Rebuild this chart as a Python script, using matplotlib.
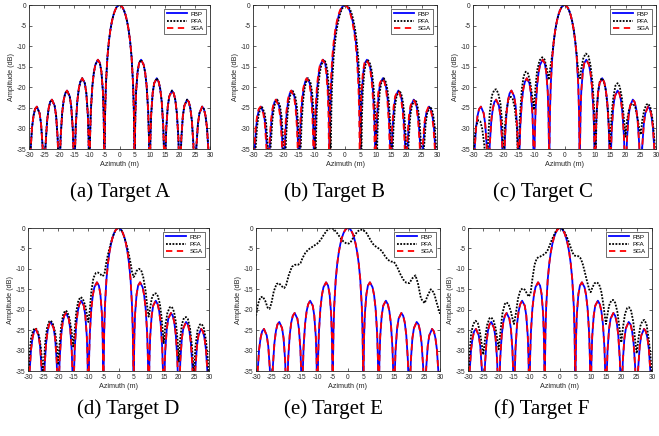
import numpy as np
import matplotlib.pyplot as plt

plt.rcParams['font.family'] = ['Liberation Sans', 'DejaVu Sans']
plt.rcParams['axes.unicode_minus'] = False

# ideal response (FBP / SGA), right half, mirrored for the left half
ideal_x_half = [0, 0.5, 1, 1.5, 2, 2.5, 3, 3.5, 4, 4.5, 4.75, 4.9, 5,
                5.1, 5.25, 5.5, 6, 6.5, 7.15, 8, 8.5, 9, 9.5, 9.75, 9.9, 10,
                10.1, 10.25, 10.5, 11, 11.5, 12.35, 13, 13.5, 14, 14.5, 14.75, 14.9, 15,
                15.1, 15.25, 15.5, 16, 16.5, 17.4, 18, 18.5, 19, 19.5, 19.75, 19.9, 20,
                20.1, 20.25, 20.5, 21, 21.5, 22.4, 23, 23.5, 24, 24.5, 24.75, 24.9, 25,
                25.1, 25.25, 25.5, 26, 26.5, 27.4, 28, 28.5, 29, 29.5, 29.75, 29.9, 30]
ideal_y_half = [0, -0.14, -0.58, -1.33, -2.42, -3.92, -5.94, -8.69, -12.6, -19.2, -25.6, -33.8, -60,
                -34.2, -26.5, -21.0, -16.2, -14.1, -13.3, -14.5, -16.4, -19.7, -25.7, -31.9, -39.9, -60,
                -40.1, -32.3, -26.6, -21.4, -19.0, -17.8, -18.7, -20.4, -23.5, -29.4, -35.5, -43.5, -60,
                -43.6, -35.7, -30.0, -24.7, -22.2, -20.8, -21.5, -23.1, -26.2, -32.0, -38.0, -46, -60,
                -46, -38.2, -32.4, -27.0, -24.5, -23.0, -23.6, -25.2, -28.2, -33.9, -39.9, -48, -60,
                -48, -40.1, -34.3, -28.9, -26.3, -24.7, -25.3, -26.9, -29.8, -35.6, -41.5, -49, -60]

ideal_x = np.concatenate([-np.array(ideal_x_half[::-1]), ideal_x_half[1:]])
ideal_y = np.concatenate([ideal_y_half[::-1], ideal_y_half[1:]])

# target B: small azimuth offsets
b_pfa_shift = 0.3
b_sga_shift = -0.15

# PFA responses for targets C-F
pfa_c = [(-30, -40), (-29.6, -33), (-29, -29.5), (-28.3, -28), (-27.6, -28.3), (-27, -30), (-26.3, -34),
         (-25.5, -42), (-25, -32), (-24.5, -26), (-23.8, -22), (-23, -20.6), (-22.4, -20.5), (-21.7, -21.5),
         (-21, -24), (-20.4, -29), (-20, -42), (-19.6, -30), (-19, -25.5), (-18.3, -22.8), (-17.6, -22.3),
         (-17, -22.8), (-16.3, -25), (-15.6, -30), (-15.1, -42), (-14.7, -28), (-14, -20.5), (-13.4, -17.3),
         (-12.7, -16.2), (-12, -16.6), (-11.3, -18.5), (-10.6, -22), (-10, -25.5), (-9.5, -20), (-9, -16),
         (-8.2, -13.5), (-7.3, -12.7), (-6.5, -13.3), (-5.8, -15.5), (-5.2, -18.2), (-4.6, -15), (-4.2, -13),
         (-4, -12), (-3.5, -8.7), (-3, -6), (-2.5, -3.9), (-2, -2.4), (-1.5, -1.3), (-1, -0.6), (-0.5, -0.15),
         (0, 0), (0.5, -0.15), (1, -0.6), (1.5, -1.3), (2, -2.4), (2.5, -3.9), (3, -5.9), (3.5, -8.6),
         (4, -12), (4.3, -14.5), (4.7, -17.3), (5.1, -17.8), (5.5, -15.5), (6.2, -12.8), (7, -11.8),
         (7.8, -12.3), (8.5, -14.5), (9.2, -19), (9.7, -25), (10.1, -42), (10.5, -27), (11, -21),
         (11.6, -18.5), (12.2, -17.8), (12.9, -18.5), (13.6, -21), (14.3, -26), (14.9, -35), (15.4, -27),
         (16, -22.5), (16.7, -19.6), (17.4, -19), (18.1, -19.8), (18.8, -22.5), (19.4, -27), (20, -32),
         (20.5, -28), (21.2, -25.3), (21.9, -24.2), (22.5, -24), (23.2, -24.8), (23.9, -27.3), (24.5, -30),
         (25, -31.5), (25.5, -28), (26.2, -25.3), (26.9, -24.2), (27.5, -24), (28.2, -25), (28.9, -28),
         (29.5, -33), (30, -40)]

pfa_d = [(-30, -40), (-29.5, -31), (-29, -27), (-28.3, -25), (-27.6, -24.5), (-27, -24.9), (-26.3, -26.5),
         (-25.7, -29.5), (-25.2, -34), (-25, -36), (-24.8, -34), (-24.3, -28), (-23.7, -24.5), (-23, -22.9),
         (-22.4, -22.7), (-21.8, -23.4), (-21, -25.5), (-20.4, -29), (-20, -33.5), (-19.6, -29), (-19, -24),
         (-18.3, -21), (-17.6, -20.2), (-17, -20.5), (-16.3, -22), (-15.6, -25), (-15, -29), (-14.5, -25),
         (-14, -20.5), (-13.3, -17.7), (-12.5, -16.9), (-11.8, -17.4), (-11, -19), (-10.4, -21.5), (-10, -23),
         (-9.5, -20), (-9, -15.5), (-8.3, -12.2), (-7.5, -11), (-6.8, -10.9), (-6, -11.3), (-5.4, -11.8),
         (-5, -11.6), (-4.6, -11), (-4, -8.2), (-3.5, -6.5), (-3, -5), (-2.5, -3.6), (-2, -2.4), (-1.5, -1.35),
         (-1, -0.6), (-0.5, -0.15), (0, 0), (0.5, -0.15), (1, -0.6), (1.5, -1.35), (2, -2.4), (2.5, -3.6),
         (3, -5.1), (3.5, -6.7), (4, -8.6), (4.5, -10.8), (5, -12), (5.4, -11.6), (6, -10.5), (6.8, -10),
         (7.5, -10.3), (8.2, -12), (9, -15.5), (9.5, -19), (10, -21.7), (10.4, -20), (11, -17.3),
         (11.7, -16.1), (12.4, -16), (13, -16.6), (13.7, -18.5), (14.3, -22), (15, -28.2), (15.5, -24),
         (16.2, -20.8), (17, -19.4), (17.7, -19.3), (18.4, -20.5), (19, -23), (19.6, -27.5), (20, -32.7),
         (20.4, -27.5), (21, -23.6), (21.7, -22), (22.4, -21.8), (23, -22.3), (23.7, -24.5), (24.3, -28.5),
         (25, -36), (25.5, -29), (26.2, -25), (27, -23.6), (27.6, -23.5), (28.3, -24.5), (29, -27.5),
         (29.6, -32), (30, -38)]

pfa_e = [(-30, -21.5), (-29.3, -18.5), (-28.6, -17), (-27.8, -16.8), (-27, -17.8), (-26.2, -19.5),
         (-25.6, -19.8), (-25, -18.5), (-24.2, -15.5), (-23.3, -13.7), (-22.5, -13.5), (-21.7, -14.2),
         (-20.8, -14.7), (-20.2, -14), (-19.3, -11.5), (-18.3, -9.5), (-17.3, -9), (-16.3, -9), (-15.5, -8.6),
         (-14.8, -7.3), (-14, -6.2), (-13, -5.3), (-12, -4.8), (-11, -4.3), (-10, -3.8), (-9, -3.0),
         (-8, -1.8), (-7, -0.7), (-6, -0.1), (-5.3, 0), (-4.5, -0.4), (-3.5, -1.3), (-2.5, -2.4),
         (-1.5, -3.3), (-0.5, -3.8), (0.3, -3.8), (1, -3.3), (2, -2.0), (3, -0.9), (4, -0.4), (5, -0.5),
         (6, -1.2), (7, -2.5), (8, -3.8), (9, -4.5), (10, -5), (11, -5.6), (12, -6.8), (13, -7.8),
         (14, -8.2), (15, -8.3), (16, -9.5), (17, -11.2), (18, -12.6), (19, -13.4), (20, -13.5),
         (21, -12.3), (22, -11.6), (22.8, -13.5), (23.8, -17.3), (25, -18.4), (26, -16.5), (27, -15),
         (28, -15.8), (29, -18.5), (30, -21)]

pfa_f = [(-30, -40), (-29.5, -31), (-29, -26), (-28.3, -23.5), (-27.5, -22.7), (-26.8, -23.3),
         (-26.1, -25.5), (-25.5, -28.5), (-25, -31), (-24.5, -27.5), (-23.8, -23.8), (-23, -22.1),
         (-22.4, -21.9), (-21.7, -22.6), (-21, -24.5), (-20.4, -27.5), (-20, -29.7), (-19.5, -26),
         (-18.8, -21), (-18, -18.6), (-17.4, -18.2), (-16.7, -18.8), (-16, -20.5), (-15.4, -22.5),
         (-15, -23.5), (-14.4, -21), (-13.7, -17.3), (-12.9, -15.2), (-12.2, -14.8), (-11.5, -15.1),
         (-10.8, -16), (-10.2, -16.8), (-9.6, -16), (-9, -12.5), (-8.3, -9), (-7.6, -7.5), (-7, -7.1),
         (-6.5, -7.0), (-5.5, -6.6), (-4.5, -6.0), (-4, -5.4), (-3.5, -4.5), (-3, -3.5), (-2.5, -2.6),
         (-2, -1.8), (-1.5, -1.0), (-1, -0.45), (-0.5, -0.1), (0, 0), (0.5, -0.1), (1, -0.45),
         (1.5, -1.0), (2, -1.8), (2.5, -2.7), (3, -3.7), (3.5, -4.8), (4, -5.9), (4.6, -6.7), (5.3, -6.9),
         (6, -6.9), (6.6, -7.3), (7.3, -8.5), (8, -10.5), (8.8, -13), (9.5, -15), (10, -15.7),
         (10.6, -14.5), (11.3, -13.5), (12, -13.3), (12.7, -13.7), (13.4, -15.3), (14.1, -18.5),
         (14.7, -22), (15, -23.5), (15.4, -21.5), (16, -19), (16.7, -17.8), (17.3, -17.6), (18, -18.3),
         (18.7, -20.5), (19.4, -24.5), (20, -28), (20.5, -24.5), (21.2, -21), (21.9, -19.6), (22.5, -19.4),
         (23.2, -20.3), (23.9, -23), (24.5, -27.5), (25, -30.7), (25.5, -27.5), (26.2, -24), (26.9, -22.7),
         (27.5, -22.5), (28.2, -23.5), (28.9, -27), (29.5, -31), (30, -37)]

captions = ['(a) Target A', '(b) Target B', '(c) Target C',
            '(d) Target D', '(e) Target E', '(f) Target F']
xticks = list(range(-30, 31, 5))
yticks = list(range(-35, 1, 5))

W, H = 659, 436
# axes boxes in pixels: left, top, right, bottom
boxes = [(29, 5, 210, 149), (253, 5, 437, 149), (473, 5, 656, 149),
         (28, 228, 209, 371), (256, 228, 440, 371), (468, 228, 652, 371)]
cap_pos = [(120, 192), (335, 192), (543, 192), (128, 409), (333, 409), (542, 409)]

fig = plt.figure(figsize=(W / 100, H / 100), dpi=100)

for i, (l, t, r, b) in enumerate(boxes):
    ax = fig.add_axes([l / W, 1 - b / H, (r - l) / W, (b - t) / H])
    fbp = (ideal_x, ideal_y)
    sga = (ideal_x, ideal_y)
    if i == 0:
        pfa = (ideal_x, ideal_y)
    elif i == 1:
        pfa = (ideal_x + b_pfa_shift, ideal_y)
        sga = (ideal_x + b_sga_shift, ideal_y)
    else:
        pts = np.array([pfa_c, pfa_d, pfa_e, pfa_f][i - 2])
        pfa = (pts[:, 0], pts[:, 1])
    ax.plot(fbp[0], fbp[1], color='b', lw=1.3, label='FBP')
    ax.plot(pfa[0], pfa[1], color='k', lw=1.3, ls=(0, (1, 0.8)), label='PFA')
    ax.plot(sga[0], sga[1], color='r', lw=1.3, ls=(0, (3.5, 2.5)), label='SGA')
    ax.set_xlim(-30, 30)
    ax.set_ylim(-35, 0)
    ax.set_xticks(xticks)
    ax.set_yticks(yticks)
    ax.tick_params(direction='in', length=2, width=0.5, labelsize=4.8,
                   top=True, right=True, colors='#262626', pad=2)
    for s in ax.spines.values():
        s.set_linewidth(0.6)
        s.set_color('#262626')
    ax.set_xlabel('Azimuth (m)', fontsize=5.2, color='#262626', labelpad=1.5)
    ax.set_ylabel('Amplitude (dB)', fontsize=5.2, color='#262626', labelpad=1.5)
    leg = ax.legend(loc='upper right', fontsize=4.5, frameon=True, fancybox=False,
                    edgecolor='k', handlelength=3.2, labelspacing=0.3, borderpad=0.4,
                    handletextpad=0.6, borderaxespad=0.6)
    leg.get_frame().set_linewidth(0.5)
    cx, cy = cap_pos[i]
    fig.text(cx / W, 1 - cy / H, captions[i], ha='center', va='center',
             fontsize=15, family=['Liberation Serif', 'DejaVu Serif'])

fig.savefig('out.png', dpi=100)
